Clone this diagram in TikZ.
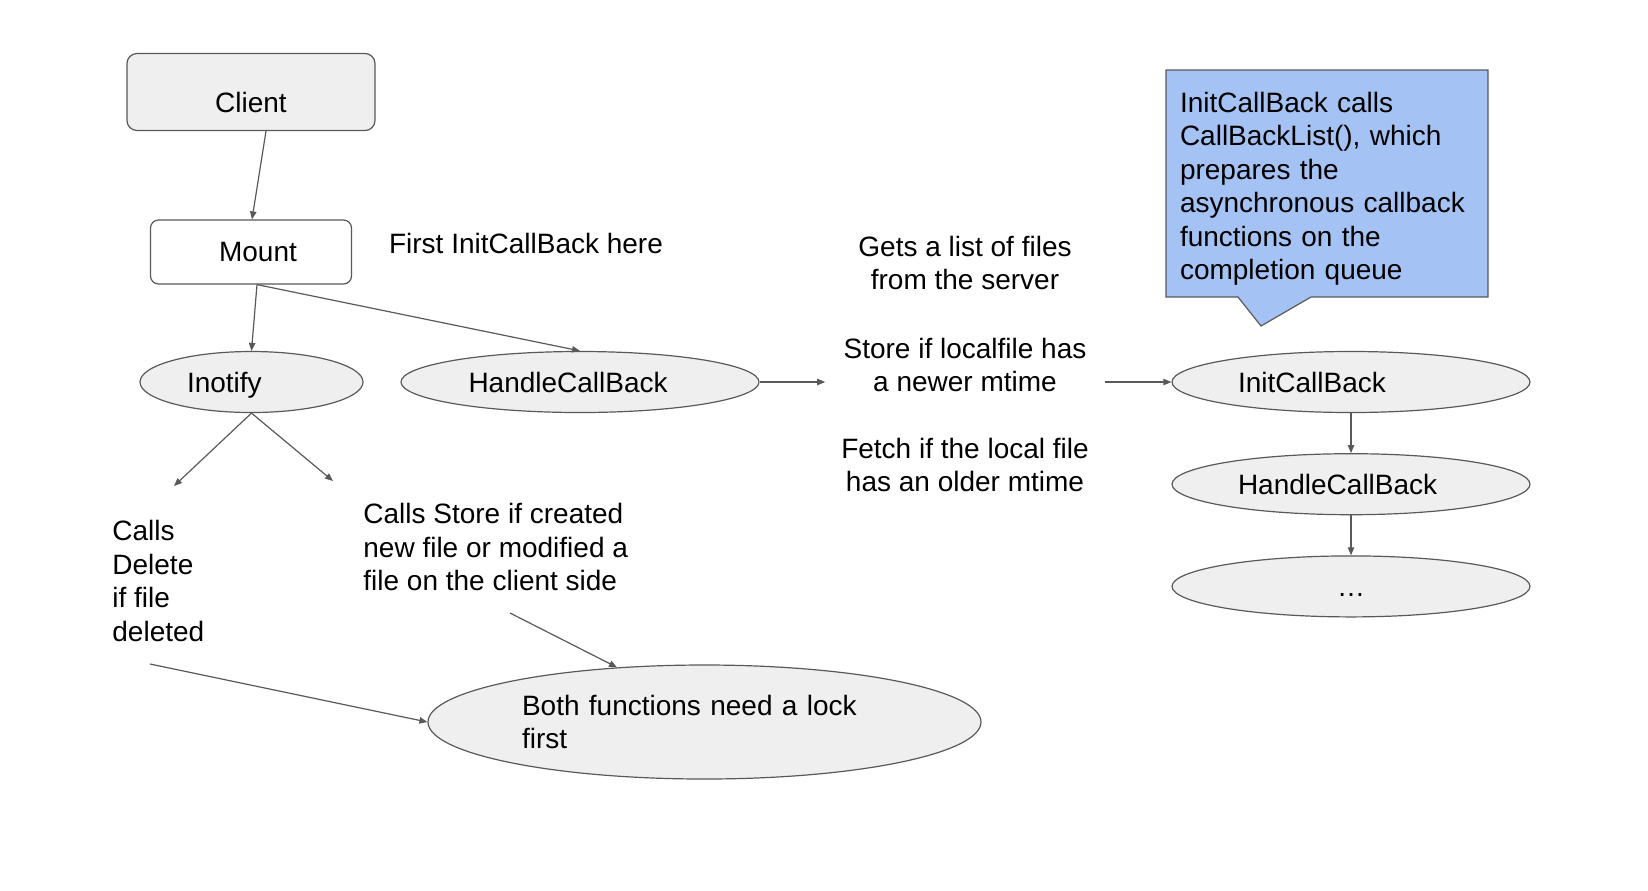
\documentclass[tikz,border=0pt]{standalone}
\usepackage{fontspec}
\setmainfont{Liberation Sans}
\usetikzlibrary{arrows.meta,positioning,shapes.geometric,shapes.callouts}
\definecolor{nodegray}{HTML}{EFEFEF}
\definecolor{linegray}{HTML}{595959}
\definecolor{noteblue}{HTML}{A4C2F4}

\begin{document}
\begin{tikzpicture}[
  x=0.5pt, y=-0.5pt,
  font=\fontsize{14}{16.75}\selectfont,
  box/.style={rounded corners=5pt, draw=linegray, line width=0.6pt,
    minimum width=124pt, minimum height=38.5pt},
  oval/.style={ellipse, draw=linegray, fill=nodegray, line width=0.6pt,
    minimum width=179pt, minimum height=30.5pt, inner sep=0pt, align=left},
  plain/.style={align=center, inner sep=9pt},
  note/.style={align=left, anchor=west, inner sep=0pt},
  arrow/.style={-{Triangle[length=4pt,width=3.2pt]}, line width=0.6pt, draw=linegray}
]
\useasboundingbox (0,0) rectangle (1648,890);

\node[box, fill=nodegray, text height=20.5pt, text depth=0pt] (client) at (251,92) {Client};
\node[box, fill=white, minimum width=100.5pt, minimum height=32pt,
  rounded corners=4pt] (mount) at (251,252) {\hspace*{7pt}Mount};
\node (first) at (526,243) {First InitCallBack here};

\node[oval, minimum width=111.5pt, text width=64.5pt, text depth=0pt] (inotify) at (251.5,382) {Inotify};
\node[oval, text width=111.5pt] (handle) at (580,382) {HandleCallBack};

\node[plain] (getlist) at (965,263) {Gets a list of files\\from the server};
\node[plain] (store) at (965,365) {Store if localfile has\\a newer mtime};
\node[plain] (fetch) at (965,465) {Fetch if the local file\\has an older mtime};

\node[oval, text width=113pt] (init) at (1351,382) {InitCallBack};
\node[oval, text width=113pt, below=20pt of init] (handletwo) {HandleCallBack};
\node[oval, align=center, text height=10pt, text depth=0pt,
  below=20pt of handletwo] (more) {\ldots};

\node[rectangle callout, draw=linegray, fill=noteblue, line width=0.6pt,
  minimum width=161pt, minimum height=113.5pt, text width=147pt,
  inner xsep=7pt, inner ysep=5.5pt, text height=15.4pt, align=left,
  callout absolute pointer={(1261,326)}, callout pointer width=36.5pt]
  (callout) at (1327,183.5) {InitCallBack calls\\CallBackList(), which\\prepares the\\
  asynchronous callback\\functions on the\\completion queue};

\node[note] (deltext) at (112,581) {Calls\\Delete\\if file\\deleted};
\node[note] (storetext) at (363,547) {Calls Store if created\\new file or modified a\\file on the client side};

\node[oval, minimum width=276.5pt, minimum height=57pt, text width=182.5pt]
  (both) at (704.5,722) {Both functions need a lock\\first};

% free ends around the Inotify branch
\coordinate (delend) at (174,486);
\coordinate (storeend) at (333,481);
\coordinate (delstart) at (150,664);
\coordinate (storestart) at (510,613);

\draw[arrow] ([xshift=7.5pt]client.south) -- ([xshift=0.5pt]mount.north);
\draw[arrow] ([xshift=3pt]mount.south) -- (inotify.north);
\draw[arrow] ([xshift=3pt]mount.south) -- (handle.north);
\draw[arrow] (handle.east) -- (handle.east -| store.west);
\draw[arrow] (store.east |- init.west) -- (init.west);
\draw[arrow] (init) -- (handletwo);
\draw[arrow] (handletwo) -- (more);
\draw[arrow] (inotify.south) -- (delend);
\draw[arrow] (inotify.south) -- (storeend);
\draw[arrow] (delstart) -- (both.west);
\draw[arrow] (storestart) -- (both.148);
\end{tikzpicture}
\end{document}
